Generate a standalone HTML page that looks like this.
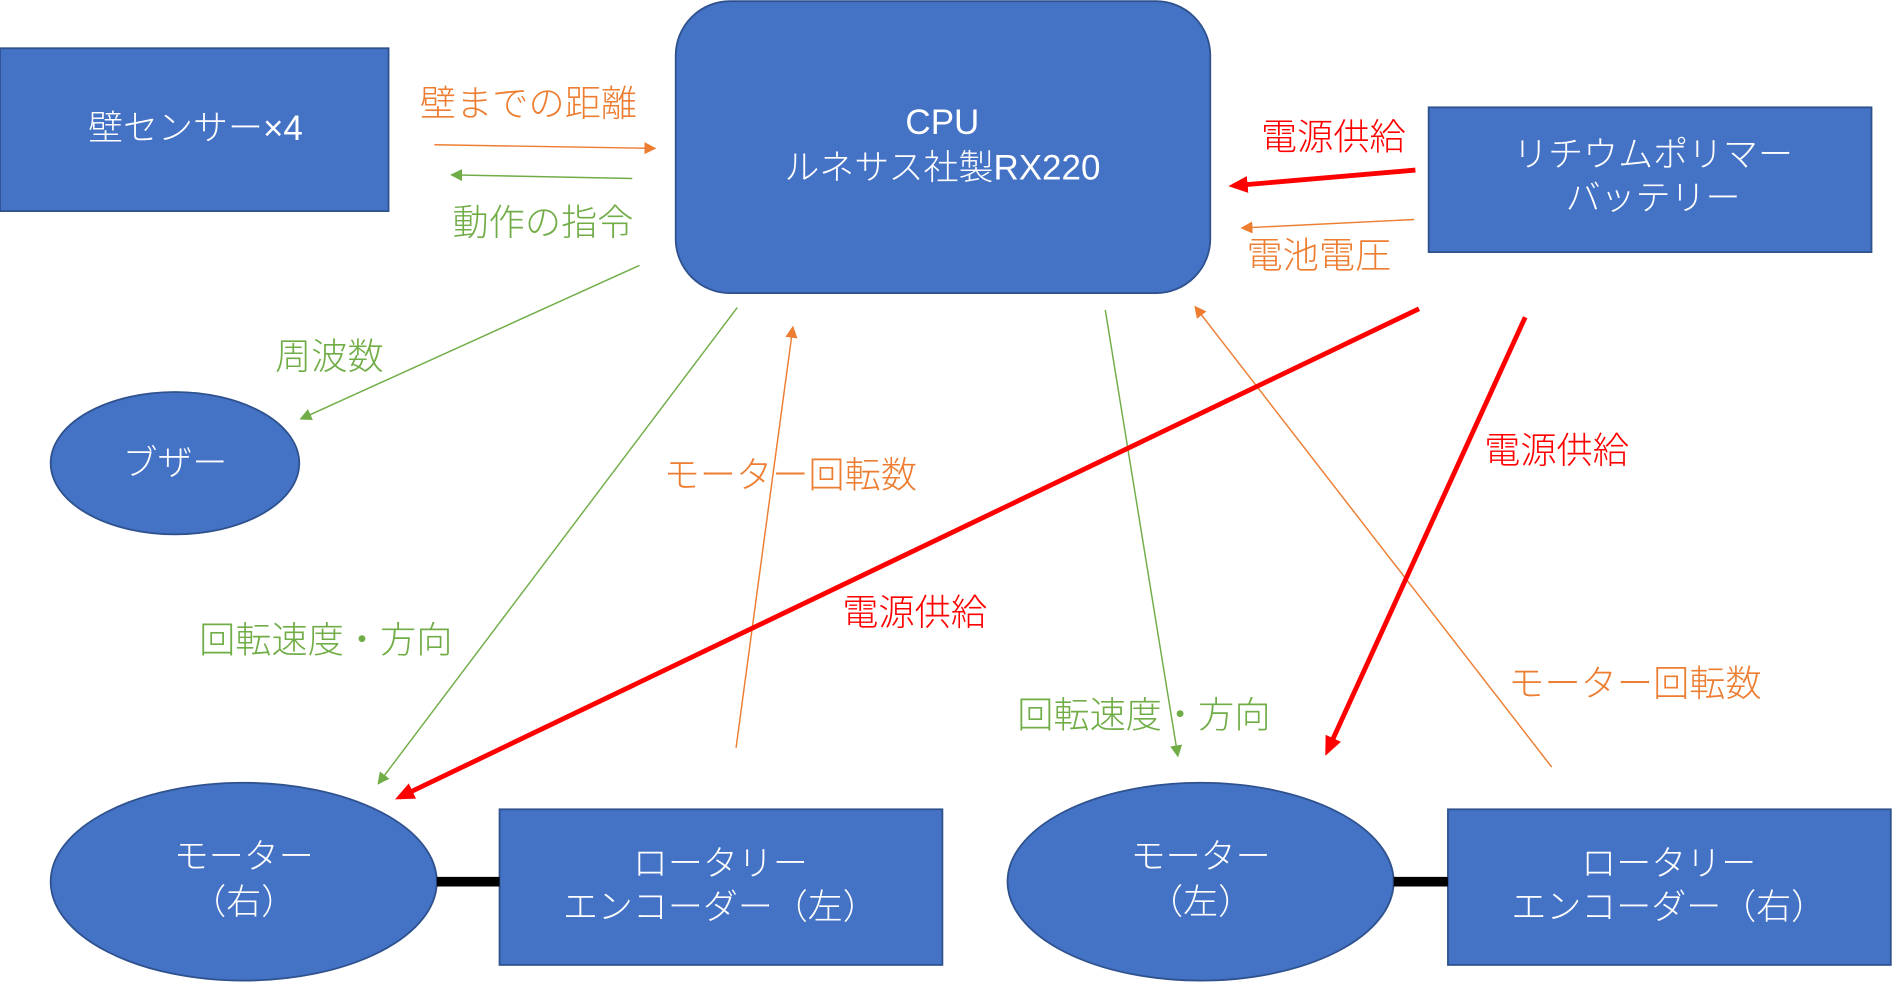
<!DOCTYPE html>
<html><head><meta charset="utf-8"><style>
html,body{margin:0;padding:0;background:#fff;}
svg{display:block;}
text{font-family:"Liberation Sans","Noto Sans CJK JP",sans-serif;}
.n{font-family:"Noto Sans CJK JP","Liberation Sans",sans-serif;font-weight:300;}
</style></head><body>
<svg width="1892" height="983" viewBox="0 0 1568 815" preserveAspectRatio="none" xmlns="http://www.w3.org/2000/svg">
<defs>
<marker id="ao" markerWidth="10" markerHeight="10" refX="8" refY="5" orient="auto" markerUnits="userSpaceOnUse"><path d="M0,0 L10,5 L0,10 z" fill="#ED7D31"/></marker>
<marker id="ag" markerWidth="10" markerHeight="10" refX="8" refY="5" orient="auto" markerUnits="userSpaceOnUse"><path d="M0,0 L10,5 L0,10 z" fill="#70AD47"/></marker>
<marker id="ar" markerWidth="16" markerHeight="16" refX="12" refY="8" orient="auto" markerUnits="userSpaceOnUse"><path d="M0,1 L16,8 L0,15 z" fill="#FF0000"/></marker>
</defs>
<g fill="#4472C4" stroke="#2F528F" stroke-width="1.5">
<rect x="0" y="40" width="322" height="135"/>
<rect x="560" y="1" width="443" height="242" rx="45"/>
<rect x="1184" y="89" width="367" height="120"/>
<ellipse cx="145" cy="384" rx="103" ry="59"/>
<ellipse cx="202" cy="731" rx="160" ry="82"/>
<rect x="414" y="671" width="367" height="129"/>
<ellipse cx="995" cy="731" rx="160" ry="82"/>
<rect x="1200" y="671" width="367" height="129"/>
</g>
<g stroke="#000" stroke-width="8">
<line x1="362" y1="731" x2="414" y2="731"/>
<line x1="1155" y1="731" x2="1200" y2="731"/>
</g>
<g class="n" fill="#fff" font-size="29" text-anchor="middle">
<text x="162" y="116">壁センサー×4</text>
<text x="781" y="111">CPU</text>
<text x="781" y="149">ルネサス社製RX220</text>
<text x="1370" y="138">リチウムポリマー</text>
<text x="1370" y="174">バッテリー</text>
<text x="145" y="394">ブザー</text>
<text x="202" y="720">モーター</text>
<text x="202" y="758">（右）</text>
<text x="597" y="726">ロータリー</text>
<text x="597" y="762">エンコーダー（左）</text>
<text x="995" y="720">モーター</text>
<text x="995" y="758">（左）</text>
<text x="1383" y="726">ロータリー</text>
<text x="1383" y="762">エンコーダー（右）</text>
</g>
<g stroke-width="1.2" fill="none">
<line x1="360" y1="120" x2="542" y2="123" stroke="#ED7D31" marker-end="url(#ao)"/>
<line x1="524" y1="148" x2="375" y2="145" stroke="#70AD47" marker-end="url(#ag)"/>
<line x1="1172" y1="182" x2="1030" y2="189" stroke="#ED7D31" marker-end="url(#ao)"/>
<line x1="530" y1="220" x2="250" y2="347" stroke="#70AD47" marker-end="url(#ag)"/>
<line x1="611" y1="255" x2="314" y2="649" stroke="#70AD47" marker-end="url(#ag)"/>
<line x1="610" y1="620" x2="657" y2="272" stroke="#ED7D31" marker-end="url(#ao)"/>
<line x1="916" y1="257" x2="976" y2="626" stroke="#70AD47" marker-end="url(#ag)"/>
<line x1="1286" y1="636" x2="991" y2="255" stroke="#ED7D31" marker-end="url(#ao)"/>
</g>
<g stroke="#FF0000" stroke-width="4" fill="none">
<line x1="1173" y1="141" x2="1022" y2="154" marker-end="url(#ar)"/>
<line x1="1176" y1="256" x2="331" y2="661" marker-end="url(#ar)"/>
<line x1="1264" y1="263" x2="1100" y2="623" marker-end="url(#ar)"/>
</g>
<g class="n" font-size="30" text-anchor="middle">
<text x="438" y="96" fill="#ED7D31">壁までの距離</text>
<text x="450" y="195" fill="#70AD47">動作の指令</text>
<text x="1105" y="124" fill="#FF0000">電源供給</text>
<text x="1093" y="222" fill="#ED7D31">電池電圧</text>
<text x="273" y="306" fill="#70AD47">周波数</text>
<text x="655" y="404" fill="#ED7D31">モーター回転数</text>
<text x="270" y="541" fill="#70AD47">回転速度・方向</text>
<text x="758" y="518" fill="#FF0000">電源供給</text>
<text x="1290" y="384" fill="#FF0000">電源供給</text>
<text x="948" y="603" fill="#70AD47">回転速度・方向</text>
<text x="1355" y="577" fill="#ED7D31">モーター回転数</text>
</g>
</svg>
</body></html>
